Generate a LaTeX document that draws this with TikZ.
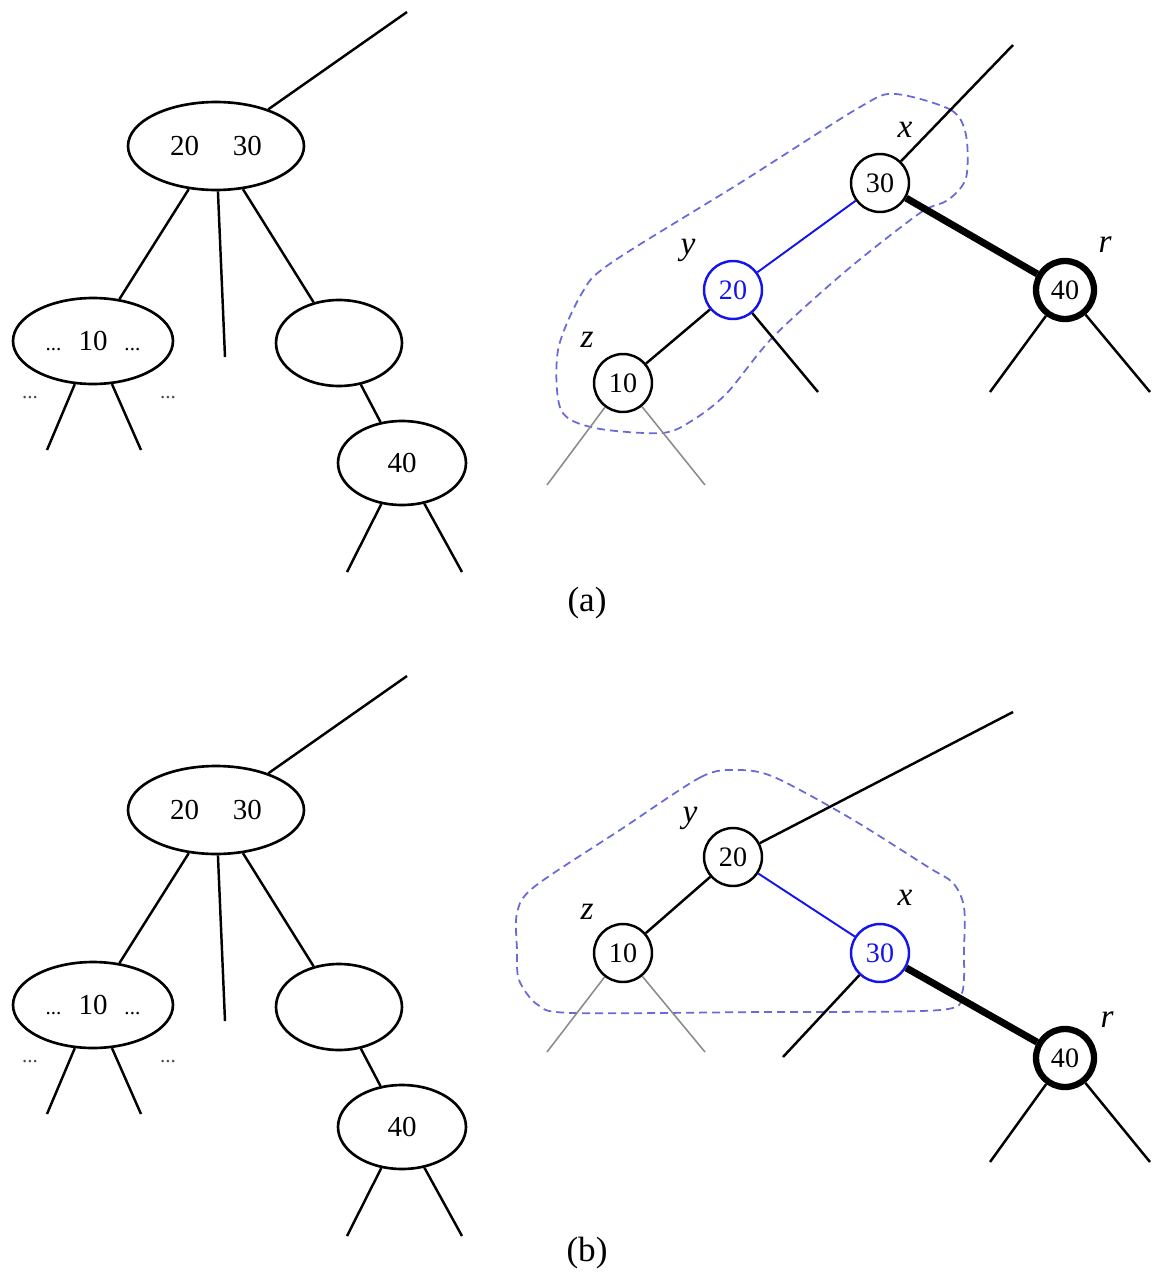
\documentclass[tikz,border=0pt]{standalone}
\usepackage{fontspec}
\setmainfont{Liberation Serif}
\usepackage{xcolor}
\usepackage{tikz}
\usetikzlibrary{shapes.geometric}

\definecolor{hiblue}{RGB}{20,20,235}
\definecolor{blobblue}{RGB}{105,105,215}
\definecolor{leafgray}{RGB}{140,140,140}

\begin{document}
\begin{tikzpicture}[x=0.02cm, y=-0.02cm, line width=1.4pt,
  twothree/.style={ellipse, draw, line width=1.5pt, inner sep=0pt,
    font=\fontsize{16.5}{16.5}\selectfont},
  rb/.style={circle, draw, line width=1.4pt, minimum size=1.16cm,
    inner sep=0pt, font=\fontsize{16}{16}\selectfont},
  hot/.style={draw=hiblue, text=hiblue},
  rootr/.style={line width=3.6pt},
  ptr/.style={font=\itshape\fontsize{19}{19}\selectfont},
  gdots/.style={black!70, font=\fontsize{12}{12}\selectfont},
  leaf/.style={leafgray, line width=0.9pt},
  blob/.style={blobblue, line width=1pt, dash pattern=on 0.16cm off 0.1cm},
  caption/.style={font=\fontsize{20}{20}\selectfont}]
\useasboundingbox (0,0) rectangle (1162,1284);

% 2-3-4 tree, same in (a) and (b)
\foreach \dy/\p in {0/a,664/b}{
\begin{scope}[shift={(0,\dy)}]
  \node[twothree, minimum width=3.52cm, minimum height=1.76cm] (\p-top) at (216,146)
    {20\hspace{0.68cm}30};
  \node[twothree, minimum width=3.2cm, minimum height=1.72cm] (\p-left) at (93,341)
    {{\fontsize{12}{12}\selectfont...}\hspace{0.34cm}10\hspace{0.34cm}{\fontsize{12}{12}\selectfont...}};
  \node[twothree, minimum width=2.52cm, minimum height=1.72cm] (\p-right) at (339,343) {};
  \node[twothree, minimum width=2.56cm, minimum height=1.68cm] (\p-forty) at (402,463) {40};
  \node[gdots] (\p-dl) at (30,398) {...};
  \node[gdots] (\p-dr) at (168,398) {...};
  \coordinate (\p-up) at (407,12);
  \coordinate (\p-mid) at (225,357);
  \coordinate (\p-l1) at (47,450);
  \coordinate (\p-l2) at (141,450);
  \coordinate (\p-f1) at (347,572);
  \coordinate (\p-f2) at (462,572);
  \draw (\p-top) -- (\p-up);
  \draw (\p-top) -- (\p-left);
  \draw (\p-top) -- (\p-mid);
  \draw (\p-top) -- (\p-right);
  \draw (\p-right) -- (\p-forty);
  \draw (\p-left) -- (\p-l1);
  \draw (\p-left) -- (\p-l2);
  \draw (\p-forty) -- (\p-f1);
  \draw (\p-forty) -- (\p-f2);
\end{scope}}

% red-black tree (a)
\draw[blob] plot[smooth cycle, tension=0.5] coordinates {(895,94) (951,110) (966,135)
  (966,178) (948,200) (920,213) (847,270) (773,337) (727,393) (693,420) (662,433)
  (595,428) (561,410) (558,350) (582,293) (611,263) (740,183) (860,107)};
\node[rb] (ax) at (880,183) {30};
\node[rb, hot] (ay) at (733,290) {20};
\node[rb] (az) at (623,383) {10};
\node[rb, rootr] (ar) at (1065,290) {40};
\node[ptr] (axl) at (905,130) {x};
\node[ptr] (ayl) at (688,250) {y};
\node[ptr] (azl) at (587,340) {z};
\node[ptr] (arl) at (1105,245) {r};
\coordinate (aup) at (1013,45);
\coordinate (ay1) at (818,392);
\coordinate (az1) at (547,485);
\coordinate (az2) at (705,485);
\coordinate (ar1) at (990,392);
\coordinate (ar2) at (1150,392);
\draw (ax) -- (aup);
\draw[hiblue, line width=1.1pt] (ax) -- (ay);
\draw[line width=4pt] (ax) -- (ar);
\draw (ay) -- (az);
\draw (ay) -- (ay1);
\draw[leaf] (az) -- (az1);
\draw[leaf] (az) -- (az2);
\draw (ar) -- (ar1);
\draw (ar) -- (ar2);
\node[caption] (capa) at (587,603) {(a)};

% red-black tree (b)
\draw[blob] plot[smooth cycle, tension=0.5] coordinates {(737,770) (701,777) (620,830)
  (534,887) (517,913) (517,950) (519,980) (538,1005) (573,1013) (760,1012) (940,1010)
  (962,993) (964,950) (964,907) (953,883) (928,867) (850,818) (774,777)};
\node[rb] (by) at (733,857) {20};
\node[rb] (bz) at (623,953) {10};
\node[rb, hot] (bx) at (880,953) {30};
\node[rb, rootr] (br) at (1065,1058) {40};
\node[ptr] (byl) at (690,818) {y};
\node[ptr] (bzl) at (587,912) {z};
\node[ptr] (bxl) at (905,898) {x};
\node[ptr] (brl) at (1107,1020) {r};
\coordinate (bup) at (1013,712);
\coordinate (bx1) at (783,1057);
\coordinate (bz1) at (547,1052);
\coordinate (bz2) at (705,1052);
\coordinate (br1) at (990,1162);
\coordinate (br2) at (1150,1162);
\draw (by) -- (bup);
\draw (by) -- (bz);
\draw[hiblue, line width=1.1pt] (by) -- (bx);
\draw[line width=4pt] (bx) -- (br);
\draw (bx) -- (bx1);
\draw[leaf] (bz) -- (bz1);
\draw[leaf] (bz) -- (bz2);
\draw (br) -- (br1);
\draw (br) -- (br2);
\node[caption] (capb) at (587,1253) {(b)};
\end{tikzpicture}
\end{document}
